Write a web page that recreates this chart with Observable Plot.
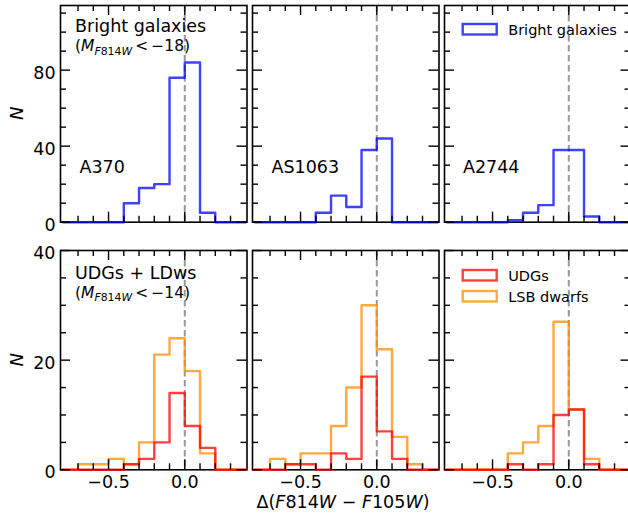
<!DOCTYPE html>
<html><head><meta charset="utf-8">
<script src="https://cdn.jsdelivr.net/npm/d3@7"></script>
<script src="https://cdn.jsdelivr.net/npm/@observablehq/plot@0.6"></script>
<style>
html,body{margin:0;padding:0;background:#fff;}
#fig{position:relative;width:628px;height:516px;overflow:hidden;background:#fff;font-family:"DejaVu Sans",sans-serif;}
.panel{position:absolute;}
#overlay{position:absolute;left:0;top:0;pointer-events:none;}
</style></head>
<body><div id="fig"></div>
<script>
// ---- data ----
const clusters = ["A370", "AS1063", "A2744"];
const binEdges = [-0.8, -0.7, -0.6, -0.5, -0.4, -0.3, -0.2, -0.1, 0.0, 0.1, 0.2, 0.3, 0.4];
// counts per bin (12 bins of width 0.1 from -0.8 to 0.4)
const brightA370   = [0, 0, 0, 0, 10, 18, 20, 76, 84, 5, 0, 0];
const brightAS1063 = [0, 0, 0, 0, 5, 14, 8, 38, 44, 0, 0, 0];
const brightA2744  = [0, 0, 0, 0, 1, 5, 9, 38, 38, 3, 0, 0];
const udgA370      = [0, 0, 0, 0, 1, 2, 5, 14, 8, 4, 0, 0];
const udgAS1063    = [0, 0, 1, 1, 0, 3, 2, 17, 7, 2, 0, 0];
const udgA2744     = [0, 0, 0, 0, 1, 0, 1, 10, 11, 1, 0, 0];
const lsbA370      = [0, 1, 1, 2, 1, 5, 21, 24, 18, 3, 0, 0];
const lsbAS1063    = [0, 2, 1, 3, 3, 8, 15, 30, 22, 6, 1, 0];
const lsbA2744     = [0, 0, 0, 0, 3, 5, 8, 27, 11, 2, 0, 0];
// tick values
const xMajorTicks = [-0.5, 0.0];
const xMinorTicks = [-0.7, -0.6, -0.4, -0.3, -0.2, -0.1, 0.1, 0.2, 0.3];
const topYMajor = [0, 40, 80];
const topYMinor = [10, 20, 30, 50, 60, 70, 90, 100, 110];
const botYMajor = [0, 20, 40];
const botYMinor = [5, 10, 15, 25, 30, 35];
const topSeries = [brightA370, brightAS1063, brightA2744];
const udgSeries = [udgA370, udgAS1063, udgA2744];
const lsbSeries = [lsbA370, lsbAS1063, lsbA2744];

// ---- layout ----
const colLeft = [60, 252, 443.5];
const rowTop = [5, 250];
const panelW = 186.5;
const panelH = [216.7, 219.3];
const mL = 62, mR = 4, mT = 4, mB = 48;
const blue = "blue", red = "red", orange = "darkorange";

function steps(counts) {
  const pts = [{x: binEdges[0], y: 0}];
  counts.forEach((c, i) => { pts.push({x: binEdges[i], y: c}); pts.push({x: binEdges[i + 1], y: c}); });
  pts.push({x: binEdges[counts.length], y: 0});
  return pts;
}

const fig = document.getElementById("fig");

function makePanel(row, col) {
  const H = panelH[row], W = panelW;
  const yMajor = row === 0 ? topYMajor : botYMajor;
  const yMinor = row === 0 ? topYMinor : botYMinor;
  const yDomain = row === 0 ? [0, 114] : [0, 40];
  const series = row === 0
    ? [{c: topSeries[col], color: blue}]
    : [{c: lsbSeries[col], color: orange}, {c: udgSeries[col], color: red}];
  const tk = {stroke: "black", strokeWidth: 1.4};
  const marks = [
    Plot.frame({stroke: "black", strokeWidth: 1.6}),
    Plot.ruleX([0], {stroke: "#808080", strokeOpacity: 0.8, strokeWidth: 2, strokeDasharray: "6.5,3.5"}),
    ...series.map(s => Plot.line(steps(s.c), {x: "x", y: "y", stroke: s.color, strokeOpacity: 0.75, strokeWidth: 2.4})),
    Plot.ruleX(xMinorTicks, {...tk, insetTop: H - 6}),
    Plot.ruleX(xMinorTicks, {...tk, insetBottom: H - 6}),
    Plot.ruleX(xMajorTicks, {...tk, insetTop: H - 10}),
    Plot.ruleX(xMajorTicks, {...tk, insetBottom: H - 10}),
    Plot.ruleY(yMinor, {...tk, insetRight: W - 6}),
    Plot.ruleY(yMinor, {...tk, insetLeft: W - 6}),
    Plot.ruleY(yMajor, {...tk, insetRight: W - 10}),
    Plot.ruleY(yMajor, {...tk, insetLeft: W - 10})
  ];
  const hasY = col === 0, hasX = row === 1;
  if (hasY) marks.push(Plot.axisY(yMajor, {tickSize: 0, tickPadding: 5, dy: 3, label: null, tickFormat: d3.format("d")}));
  if (hasX) marks.push(Plot.axisX(xMajorTicks, {tickSize: 0, tickPadding: 5.5, label: null, tickFormat: d3.format(".1f")}));
  const chart = Plot.plot({
    width: W + mL + mR,
    height: H + mT + mB,
    marginLeft: mL, marginRight: mR, marginTop: mT, marginBottom: mB,
    style: {background: "transparent", overflow: "visible", fontFamily: "DejaVu Sans", fontSize: "17.5px", maxWidth: "none"},
    x: {domain: [-0.815, 0.408], label: null, ...(hasX ? {} : {axis: null})},
    y: {domain: yDomain, label: null, ...(hasY ? {} : {axis: null})},
    marks
  });
  const div = document.createElement("div");
  div.className = "panel";
  div.style.left = (colLeft[col] - mL) + "px";
  div.style.top = (rowTop[row] - mT) + "px";
  div.appendChild(chart);
  fig.appendChild(div);
}
for (let r = 0; r < 2; r++) for (let c = 0; c < 3; c++) makePanel(r, c);

// ---- annotations & legends ----
const svg = d3.select(fig).append("svg").attr("id", "overlay").attr("width", 628).attr("height", 516)
  .style("font-family", "DejaVu Sans");

function mathLimit(x, y, size, num) {
  const t = svg.append("text").attr("x", x).attr("y", y).attr("font-size", size);
  const s = size * 0.7, sh = size * 0.25;
  t.append("tspan").text("(");
  t.append("tspan").attr("font-style", "italic").text("M");
  t.append("tspan").attr("font-size", s).attr("font-style", "italic").attr("dy", sh).text("F");
  t.append("tspan").attr("font-size", s).text("814");
  t.append("tspan").attr("font-size", s).attr("font-style", "italic").text("W");
  t.append("tspan").attr("dy", -sh).text("\u2009<\u2009\u2212" + num + ")");
}

svg.append("text").attr("x", 75).attr("y", 32).attr("font-size", 17.5).text("Bright galaxies");
mathLimit(75, 51, 15.5, 18);
svg.append("text").attr("x", 75).attr("y", 278.5).attr("font-size", 17.5).text("UDGs + LDws");
mathLimit(75, 297.5, 15.5, 14);
clusters.forEach((name, i) => {
  svg.append("text").attr("x", colLeft[i] + 19.5).attr("y", 172.5).attr("font-size", 17.5).text(name);
});

// y labels
[rowTop[0] + panelH[0] / 2, rowTop[1] + panelH[1] / 2].forEach(cy => {
  svg.append("text").attr("transform", `translate(23,${cy}) rotate(-90)`).attr("text-anchor", "middle")
    .attr("font-size", 18).attr("font-style", "italic").text("N");
});

// x label
const xl = svg.append("text").attr("x", 343).attr("y", 507.5).attr("text-anchor", "middle").attr("font-size", 17.5);
xl.append("tspan").text("\u0394(");
xl.append("tspan").attr("font-style", "italic").text("F");
xl.append("tspan").text("814");
xl.append("tspan").attr("font-style", "italic").text("W");
xl.append("tspan").text(" \u2212 ");
xl.append("tspan").attr("font-style", "italic").text("F");
xl.append("tspan").text("105");
xl.append("tspan").attr("font-style", "italic").text("W");
xl.append("tspan").text(")");

// legends
function legendItem(x, y, color, label) {
  svg.append("rect").attr("x", x).attr("y", y).attr("width", 34).attr("height", 10.5)
    .attr("fill", "none").attr("stroke", color).attr("stroke-opacity", 0.75).attr("stroke-width", 2.4);
  svg.append("text").attr("x", x + 45.5).attr("y", y + 10.5).attr("font-size", 14.5).text(label);
}
legendItem(462.7, 24, blue, "Bright galaxies");
legendItem(462.7, 270, red, "UDGs");
legendItem(462.7, 291, orange, "LSB dwarfs");
</script>
</body></html>
